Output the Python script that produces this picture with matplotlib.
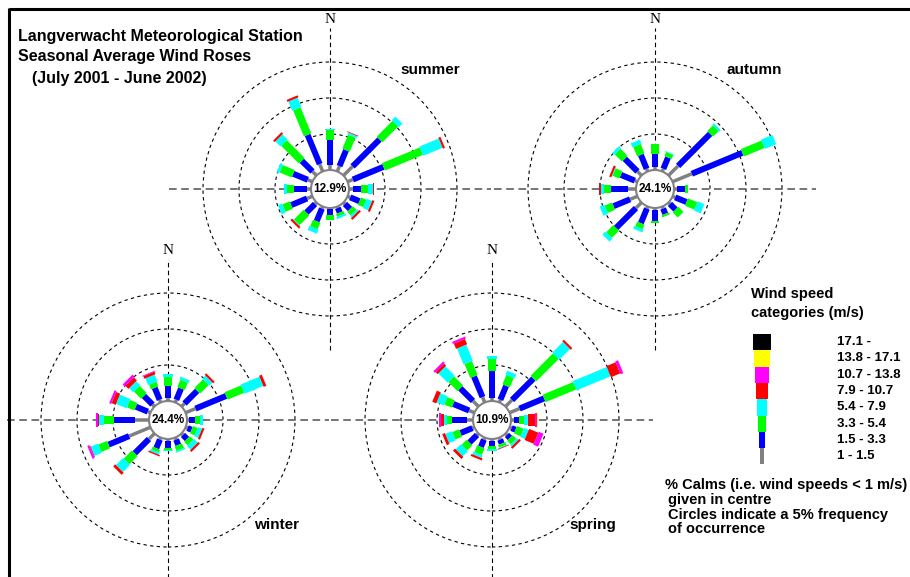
import numpy as np
import matplotlib
matplotlib.use("Agg")
import matplotlib.pyplot as plt
from matplotlib.patches import Circle, Rectangle

plt.rcParams["font.family"] = ["Liberation Sans", "DejaVu Sans"]

directions = ["N", "NNE", "NE", "ENE", "E", "ESE", "SE", "SSE",
              "S", "SSW", "SW", "WSW", "W", "WNW", "NW", "NNW"]
categories = ["1 - 1.5", "1.5 - 3.3", "3.3 - 5.4", "5.4 - 7.9",
              "7.9 - 10.7", "10.7 - 13.8", "13.8 - 17.1", "17.1 -"]
cat_colors = ["#808080", "#0000ff", "#00ff00", "#00ffff",
              "#ff0000", "#ff00ff", "#ffff00", "#000000"]
seasons = ["summer", "autumn", "winter", "spring"]
calms = [12.9, 24.1, 24.4, 10.9]

# % frequency of occurrence, one row per direction, columns follow categories
summer = [
    [0.7, 3.5, 1.4, 0.1, 0.0, 0, 0, 0],
    [0.8, 2.4, 2.1, 0.3, 0.1, 0, 0, 0],
    [1.8, 5.3, 3.1, 0.7, 0.0, 0, 0, 0],
    [0.8, 4.6, 5.7, 2.9, 0.3, 0, 0, 0],
    [0.6, 1.0, 1.0, 0.7, 0.2, 0, 0, 0],
    [0.4, 1.4, 0.8, 0.8, 0.3, 0, 0, 0],
    [0.3, 1.0, 0.7, 0.3, 0.3, 0, 0, 0],
    [0.2, 0.7, 0.4, 0.3, 0.0, 0, 0, 0],
    [0.2, 0.8, 0.6, 0.1, 0.0, 0, 0, 0],
    [0.3, 1.9, 1.0, 0.6, 0.0, 0, 0, 0],
    [0.3, 1.7, 1.9, 0.1, 0.3, 0, 0, 0],
    [0.8, 2.4, 1.1, 0.6, 0.0, 0, 0, 0],
    [0.6, 1.7, 1.1, 0.3, 0.0, 0, 0, 0],
    [0.7, 2.2, 1.8, 0.4, 0.0, 0, 0, 0],
    [0.8, 2.1, 3.5, 1.0, 0.3, 0, 0, 0],
    [1.1, 4.4, 3.9, 1.4, 0.3, 0, 0, 0],
]
autumn = [
    [0.4, 1.8, 1.4, 0.0, 0.0, 0, 0, 0],
    [0.4, 1.7, 0.6, 0.1, 0.0, 0, 0, 0],
    [1.9, 6.3, 1.1, 0.3, 0.0, 0, 0, 0],
    [2.9, 7.6, 3.1, 1.7, 0.0, 0, 0, 0],
    [0.4, 1.1, 0.4, 0.1, 0.0, 0, 0, 0],
    [0.4, 1.7, 1.4, 1.0, 0.0, 0, 0, 0],
    [0.3, 1.1, 1.0, 0.0, 0.0, 0, 0, 0],
    [0.3, 0.8, 0.3, 0.0, 0.0, 0, 0, 0],
    [0.3, 1.5, 0.3, 0.0, 0.0, 0, 0, 0],
    [0.3, 2.2, 0.7, 0.4, 0.0, 0, 0, 0],
    [1.1, 3.9, 1.4, 0.6, 0.0, 0, 0, 0],
    [1.1, 2.5, 1.1, 0.7, 0.0, 0, 0, 0],
    [1.1, 2.4, 0.9, 0.5, 0.3, 0, 0, 0],
    [0.4, 2.1, 1.0, 0.1, 0.3, 0, 0, 0],
    [0.8, 2.5, 1.4, 0.4, 0.0, 0, 0, 0],
    [0.4, 2.1, 1.4, 0.6, 0.0, 0, 0, 0],
]
winter = [
    [0.4, 1.7, 1.3, 0.4, 0.0, 0.0, 0, 0],
    [0.4, 1.7, 1.1, 0.4, 0.0, 0.0, 0, 0],
    [0.6, 2.5, 1.7, 0.6, 0.3, 0.0, 0, 0],
    [1.5, 4.6, 2.5, 2.8, 0.4, 0.0, 0, 0],
    [0.3, 0.8, 0.7, 0.4, 0.0, 0.0, 0, 0],
    [0.3, 0.6, 0.7, 0.6, 0.3, 0.0, 0, 0],
    [0.3, 0.8, 0.7, 0.7, 0.3, 0.0, 0, 0],
    [0.3, 0.8, 0.7, 0.2, 0.0, 0.0, 0, 0],
    [0.3, 0.9, 0.3, 0.2, 0.0, 0.0, 0, 0],
    [0.3, 1.3, 0.4, 0.3, 0.2, 0.0, 0, 0],
    [1.1, 2.8, 1.6, 1.4, 0.4, 0.0, 0, 0],
    [3.2, 3.1, 1.3, 1.1, 0.1, 0.3, 0, 0],
    [1.9, 3.0, 1.3, 0.8, 0.1, 0.3, 0, 0],
    [0.4, 1.8, 1.1, 1.6, 0.6, 0.3, 0, 0],
    [0.4, 1.7, 1.4, 0.8, 0.6, 0.4, 0, 0],
    [0.4, 1.8, 0.7, 1.0, 0.4, 0.1, 0, 0],
]
spring = [
    [0.4, 3.7, 1.8, 0.3, 0.0, 0.0, 0.0, 0],
    [0.4, 2.1, 1.4, 0.6, 0.0, 0.0, 0.0, 0],
    [1.3, 4.2, 4.4, 2.1, 0.3, 0.0, 0.0, 0],
    [1.5, 3.7, 4.6, 5.1, 1.4, 0.4, 0.0, 0],
    [0.4, 0.7, 0.7, 0.6, 1.0, 0.2, 0.2, 0],
    [0.3, 0.6, 1.0, 0.7, 1.4, 0.7, 0.0, 0],
    [0.3, 0.6, 0.7, 0.3, 0.3, 0.0, 0.0, 0],
    [0.3, 0.6, 0.4, 0.1, 0.1, 0.0, 0.0, 0],
    [0.3, 0.7, 0.4, 0.2, 0.0, 0.0, 0.0, 0],
    [0.3, 1.1, 1.0, 0.4, 0.3, 0.0, 0.0, 0],
    [0.3, 1.5, 1.0, 1.0, 0.4, 0.0, 0.0, 0],
    [0.3, 1.8, 1.0, 1.0, 0.4, 0.0, 0.0, 0],
    [0.8, 2.1, 0.7, 0.4, 0.4, 0.3, 0.0, 0],
    [0.8, 2.4, 1.1, 1.1, 0.6, 0.0, 0.0, 0],
    [1.1, 2.5, 1.8, 1.8, 0.4, 0.3, 0.0, 0],
    [0.8, 3.1, 2.1, 2.4, 0.8, 0.3, 0.0, 0],
]
rose_data = [summer, autumn, winter, spring]

# layout (pixels)
W, H = 910, 577
PX_PER_PCT = 7.2          # 36 px per 5 %
CALM_R = 19 / PX_PER_PCT  # calm circle radius in % units
HALF = 23.0               # half size of each rose axes in % units
centers = [(330, 189), (655, 189), (168, 420), (492, 420)]
label_offsets = [(100, -119), (99, -119), (109, 105), (101, 105)]
bar_px = [3.5, 6, 8, 10, 12, 14, 16, 18]

fig = plt.figure(figsize=(W / 100, H / 100), dpi=100)


def draw_rose(cx, cy, freqs, calm):
    size = 2 * HALF * PX_PER_PCT
    ax = fig.add_axes([(cx - size / 2) / W, 1 - (cy + size / 2) / H, size / W, size / H])
    ax.set_xlim(-HALF, HALF)
    ax.set_ylim(-HALF, HALF)
    ax.set_aspect("equal")
    ax.axis("off")
    ax.patch.set_visible(False)

    for ring in [5, 10, 15]:
        ax.add_patch(Circle((0, 0), CALM_R + ring, fill=False, ec="black",
                            lw=0.8, ls=(0, (3, 3))))
    ext = 161 / PX_PER_PCT
    ax.plot([-ext, ext], [0, 0], color="#505050", lw=1.1, ls=(0, (5, 3)))
    ax.plot([0, 0], [-ext, ext], color="black", lw=0.8, ls=(0, (4, 3)))
    ax.text(0, 170 / PX_PER_PCT, "N", ha="center", va="center", fontsize=11,
            family="Liberation Serif", clip_on=False)

    freqs = np.asarray(freqs, dtype=float)
    for i, row in enumerate(freqs):
        th = np.deg2rad(i * 22.5)
        ux, uy = np.sin(th), np.cos(th)
        edges = CALM_R + np.concatenate([[0], np.cumsum(row)])
        for k, val in enumerate(row):
            if val <= 0:
                continue
            ax.plot([edges[k] * ux, edges[k + 1] * ux], [edges[k] * uy, edges[k + 1] * uy],
                    color=cat_colors[k], lw=bar_px[k] * 0.72, solid_capstyle="butt", zorder=3)

    ax.add_patch(Circle((0, 0), CALM_R, fc="white", ec="#808080", lw=1.5, zorder=5))
    ax.text(0, 0, f"{calm}%", ha="center", va="center", fontsize=8.5,
            fontweight="bold", zorder=6)
    return ax


for (cx, cy), freqs, calm in zip(centers, rose_data, calms):
    draw_rose(cx, cy, freqs, calm)

# overlay in pixel coordinates for titles, legend and frame
ov = fig.add_axes([0, 0, 1, 1])
ov.set_xlim(0, W)
ov.set_ylim(H, 0)
ov.axis("off")
ov.patch.set_visible(False)

ov.plot([8.5, W], [9, 9], color="black", lw=2.2, solid_capstyle="butt")
ov.plot([8.5, 8.5], [8, H], color="black", lw=2.2, solid_capstyle="butt")

ov.text(18, 37, "Langverwacht Meteorological Station", fontsize=11.5, fontweight="bold", va="center")
ov.text(18, 57, "Seasonal Average Wind Roses", fontsize=11.5, fontweight="bold", va="center")
ov.text(32, 78, "(July 2001 - June 2002)", fontsize=11.5, fontweight="bold", va="center")

for (cx, cy), (dx, dy), name in zip(centers, label_offsets, seasons):
    ov.text(cx + dx, cy + dy, name, fontsize=11, fontweight="bold", ha="center", va="center")

ov.text(751, 294, "Wind speed", fontsize=10.5, fontweight="bold", va="center")
ov.text(751, 313, "categories (m/s)", fontsize=10.5, fontweight="bold", va="center")

top = 334
step = 16.3
for j, (lab, col, wpx) in enumerate(zip(categories[::-1], cat_colors[::-1], bar_px[::-1])):
    y0 = top + j * step
    ov.add_patch(Rectangle((762 - wpx / 2, y0), wpx, step, fc=col, ec="none"))
    ov.text(837, y0 + step / 2, lab, fontsize=9.5, fontweight="bold", va="center")

ov.text(665, 485, "% Calms (i.e. wind speeds < 1 m/s)", fontsize=10.5, fontweight="bold", va="center")
ov.text(668, 500, "given in centre", fontsize=10.5, fontweight="bold", va="center")
ov.text(668, 515, "Circles indicate a 5% frequency", fontsize=10.5, fontweight="bold", va="center")
ov.text(668, 529, "of occurrence", fontsize=10.5, fontweight="bold", va="center")

fig.savefig("out.png", dpi=100, facecolor="white")
